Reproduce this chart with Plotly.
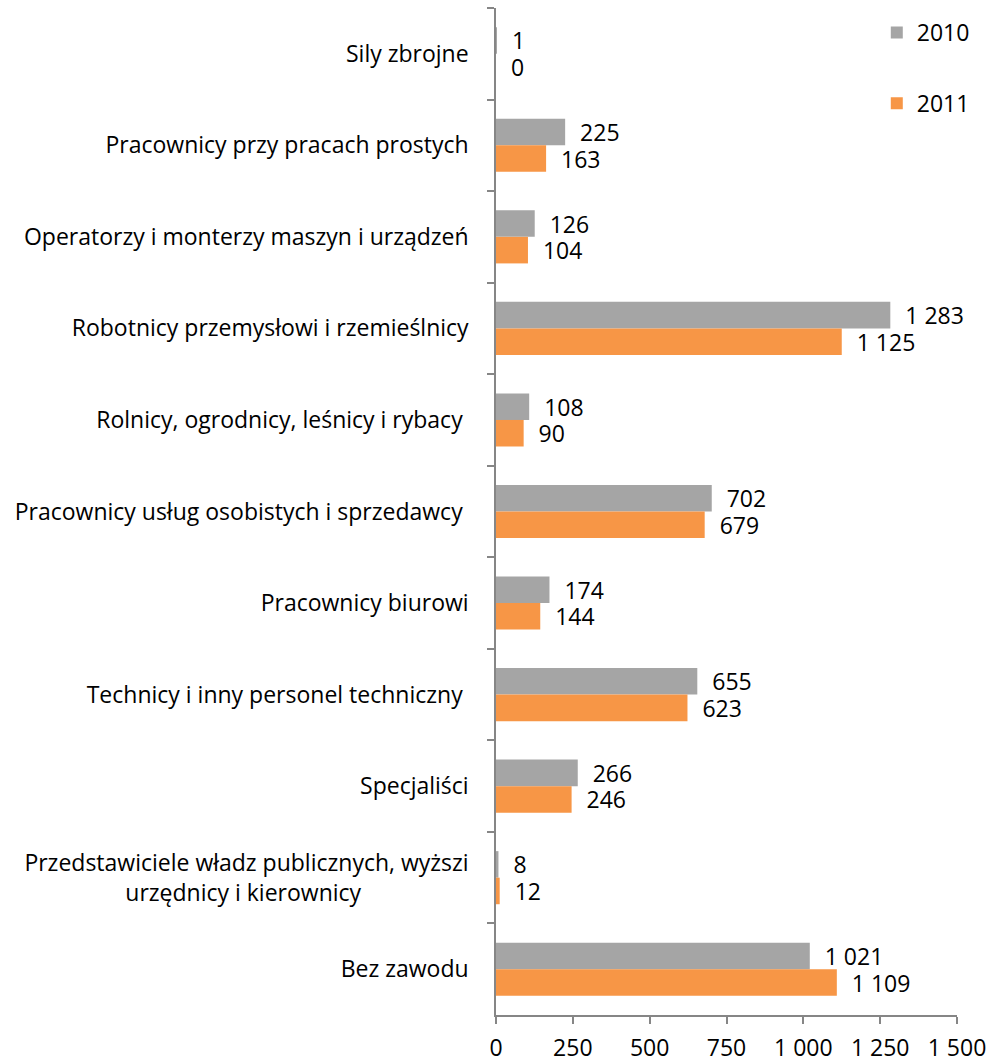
import plotly.graph_objects as go

categories = [
    "Sily zbrojne",
    "Pracownicy przy pracach prostych",
    "Operatorzy i monterzy maszyn i urządzeń",
    "Robotnicy przemysłowi i rzemieślnicy",
    "Rolnicy, ogrodnicy, leśnicy i rybacy\u00a0",
    "Pracownicy usług osobistych i sprzedawcy\u00a0",
    "Pracownicy biurowi",
    "Technicy i inny personel techniczny\u00a0",
    "Specjaliści",
    "Przedstawiciele władz publicznych, wyższi<br>urzędnicy i kierownicy" + "\u00a0" * 18,
    "Bez zawodu",
]
values_2010 = [1, 225, 126, 1283, 108, 702, 174, 655, 266, 8, 1021]
values_2011 = [0, 163, 104, 1125, 90, 679, 144, 623, 246, 12, 1109]
x_ticks = [0, 250, 500, 750, 1000, 1250, 1500]

FONT = "Open Sans"
FS = 23
fig = go.Figure()
for name, vals, color in [("2010", values_2010, "#a5a5a5"), ("2011", values_2011, "#f79646")]:
    fig.add_trace(go.Bar(
        y=categories, x=vals, name=name, orientation="h",
        marker=dict(color=color, line=dict(width=0)),
        texttemplate="\u00a0\u00a0%{x:,d}", textposition="outside",
        textfont=dict(family=FONT, size=FS, color="#000000"),
        constraintext="none", cliponaxis=False, legendgroup=name,
    ))

fig.update_layout(
    width=991, height=1064,
    margin=dict(l=496, r=34, t=8, b=49, autoexpand=False),
    paper_bgcolor="white", plot_bgcolor="white",
    barmode="group", bargap=0.42, bargroupgap=0,
    separators=", ",
    font=dict(family=FONT, size=FS, color="#000000"),
    showlegend=True,
    legend=dict(x=0.826, xanchor="left", y=0.997, yanchor="top",
                font=dict(family=FONT, size=FS), tracegroupgap=38,
                itemwidth=30, bgcolor="rgba(0,0,0,0)"),
    xaxis=dict(range=[0, 1500], tickvals=x_ticks, tickformat=",d",
               showgrid=False, zeroline=False, showline=True,
               linecolor="#868686", linewidth=1.5, ticks="outside",
               ticklen=7, tickcolor="#868686", tickwidth=1.5,
               tickfont=dict(family=FONT, size=FS), ticklabelstandoff=5,
               ticklabeloverflow="allow"),
    yaxis=dict(autorange="reversed", type="category", tickson="boundaries",
               showgrid=False, zeroline=False, showline=True,
               linecolor="#868686", linewidth=1.5, ticks="outside",
               ticklen=7, tickcolor="#868686", tickwidth=1.5,
               tickfont=dict(family=FONT, size=FS), ticklabelstandoff=21),
)
fig.write_html("out.html", config={"displayModeBar": False},
               post_script="document.body.style.margin='0';document.body.style.overflow='hidden';")
